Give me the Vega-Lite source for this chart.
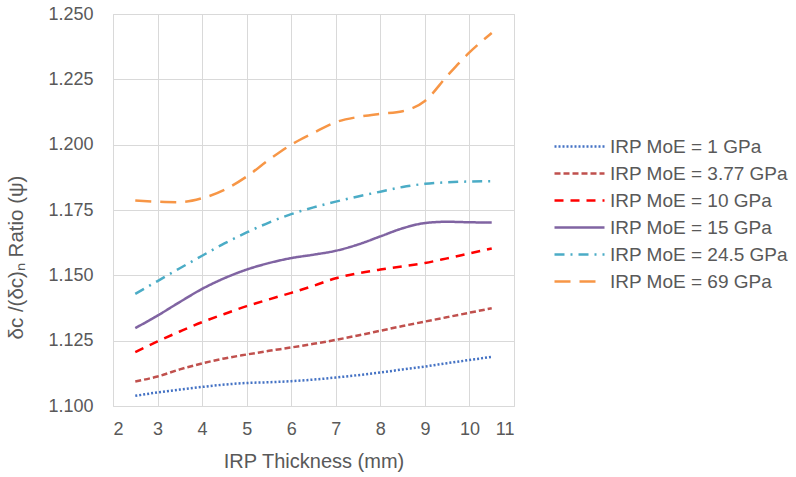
{
  "$schema": "https://vega.github.io/schema/vega-lite/v6.json",
  "width": 401,
  "height": 392,
  "autosize": {"type": "none"},
  "padding": {"left": 113, "top": 14, "right": 282, "bottom": 71},
  "background": "white",
  "config": {
    "font": "Liberation Sans",
    "view": {"stroke": "#d9d9d9", "strokeWidth": 1},
    "axis": {
      "grid": true, "gridColor": "#d9d9d9", "gridWidth": 1,
      "domain": false, "ticks": false,
      "labelColor": "#595959", "titleColor": "#595959",
      "labelFont": "Liberation Sans", "titleFont": "Liberation Sans",
      "labelFontSize": 18, "titleFontSize": 20, "titleFontWeight": "normal"
    },
    "legend": {"labelFont": "Liberation Sans", "labelColor": "#595959", "labelFontSize": 19, "labelLimit": 400}
  },
  "data": {"values": [
    {"t": 2.5, "r": 1.1039, "s": "IRP MoE = 1 GPa"},
    {"t": 3, "r": 1.1052, "s": "IRP MoE = 1 GPa"},
    {"t": 3.5, "r": 1.1063, "s": "IRP MoE = 1 GPa"},
    {"t": 4, "r": 1.1073, "s": "IRP MoE = 1 GPa"},
    {"t": 4.5, "r": 1.1082, "s": "IRP MoE = 1 GPa"},
    {"t": 5, "r": 1.1088, "s": "IRP MoE = 1 GPa"},
    {"t": 5.5, "r": 1.1091, "s": "IRP MoE = 1 GPa"},
    {"t": 6, "r": 1.1095, "s": "IRP MoE = 1 GPa"},
    {"t": 6.5, "r": 1.1101, "s": "IRP MoE = 1 GPa"},
    {"t": 7, "r": 1.1109, "s": "IRP MoE = 1 GPa"},
    {"t": 7.5, "r": 1.1118, "s": "IRP MoE = 1 GPa"},
    {"t": 8, "r": 1.1128, "s": "IRP MoE = 1 GPa"},
    {"t": 8.5, "r": 1.1140, "s": "IRP MoE = 1 GPa"},
    {"t": 9, "r": 1.1151, "s": "IRP MoE = 1 GPa"},
    {"t": 9.5, "r": 1.1164, "s": "IRP MoE = 1 GPa"},
    {"t": 10, "r": 1.1176, "s": "IRP MoE = 1 GPa"},
    {"t": 10.5, "r": 1.1188, "s": "IRP MoE = 1 GPa"},

    {"t": 2.5, "r": 1.1094, "s": "IRP MoE = 3.77 GPa"},
    {"t": 3, "r": 1.1113, "s": "IRP MoE = 3.77 GPa"},
    {"t": 3.5, "r": 1.1140, "s": "IRP MoE = 3.77 GPa"},
    {"t": 4, "r": 1.1163, "s": "IRP MoE = 3.77 GPa"},
    {"t": 4.5, "r": 1.1182, "s": "IRP MoE = 3.77 GPa"},
    {"t": 5, "r": 1.1197, "s": "IRP MoE = 3.77 GPa"},
    {"t": 5.5, "r": 1.1211, "s": "IRP MoE = 3.77 GPa"},
    {"t": 6, "r": 1.1224, "s": "IRP MoE = 3.77 GPa"},
    {"t": 6.5, "r": 1.1238, "s": "IRP MoE = 3.77 GPa"},
    {"t": 7, "r": 1.1253, "s": "IRP MoE = 3.77 GPa"},
    {"t": 7.5, "r": 1.1270, "s": "IRP MoE = 3.77 GPa"},
    {"t": 8, "r": 1.1288, "s": "IRP MoE = 3.77 GPa"},
    {"t": 8.5, "r": 1.1306, "s": "IRP MoE = 3.77 GPa"},
    {"t": 9, "r": 1.1323, "s": "IRP MoE = 3.77 GPa"},
    {"t": 9.5, "r": 1.1340, "s": "IRP MoE = 3.77 GPa"},
    {"t": 10, "r": 1.1357, "s": "IRP MoE = 3.77 GPa"},
    {"t": 10.5, "r": 1.1374, "s": "IRP MoE = 3.77 GPa"},

    {"t": 2.5, "r": 1.1206, "s": "IRP MoE = 10 GPa"},
    {"t": 3, "r": 1.1247, "s": "IRP MoE = 10 GPa"},
    {"t": 3.5, "r": 1.1285, "s": "IRP MoE = 10 GPa"},
    {"t": 4, "r": 1.1321, "s": "IRP MoE = 10 GPa"},
    {"t": 4.5, "r": 1.1352, "s": "IRP MoE = 10 GPa"},
    {"t": 5, "r": 1.1382, "s": "IRP MoE = 10 GPa"},
    {"t": 5.5, "r": 1.1408, "s": "IRP MoE = 10 GPa"},
    {"t": 6, "r": 1.1433, "s": "IRP MoE = 10 GPa"},
    {"t": 6.5, "r": 1.1460, "s": "IRP MoE = 10 GPa"},
    {"t": 7, "r": 1.1489, "s": "IRP MoE = 10 GPa"},
    {"t": 7.5, "r": 1.1508, "s": "IRP MoE = 10 GPa"},
    {"t": 8, "r": 1.1522, "s": "IRP MoE = 10 GPa"},
    {"t": 8.5, "r": 1.1534, "s": "IRP MoE = 10 GPa"},
    {"t": 9, "r": 1.1547, "s": "IRP MoE = 10 GPa"},
    {"t": 9.5, "r": 1.1565, "s": "IRP MoE = 10 GPa"},
    {"t": 10, "r": 1.1584, "s": "IRP MoE = 10 GPa"},
    {"t": 10.5, "r": 1.1603, "s": "IRP MoE = 10 GPa"},

    {"t": 2.5, "r": 1.1298, "s": "IRP MoE = 15 GPa"},
    {"t": 3, "r": 1.1346, "s": "IRP MoE = 15 GPa"},
    {"t": 3.5, "r": 1.1398, "s": "IRP MoE = 15 GPa"},
    {"t": 4, "r": 1.1448, "s": "IRP MoE = 15 GPa"},
    {"t": 4.5, "r": 1.1489, "s": "IRP MoE = 15 GPa"},
    {"t": 5, "r": 1.1522, "s": "IRP MoE = 15 GPa"},
    {"t": 5.5, "r": 1.1547, "s": "IRP MoE = 15 GPa"},
    {"t": 6, "r": 1.1566, "s": "IRP MoE = 15 GPa"},
    {"t": 6.5, "r": 1.1579, "s": "IRP MoE = 15 GPa"},
    {"t": 7, "r": 1.1594, "s": "IRP MoE = 15 GPa"},
    {"t": 7.5, "r": 1.1618, "s": "IRP MoE = 15 GPa"},
    {"t": 8, "r": 1.1649, "s": "IRP MoE = 15 GPa"},
    {"t": 8.5, "r": 1.1680, "s": "IRP MoE = 15 GPa"},
    {"t": 9, "r": 1.1700, "s": "IRP MoE = 15 GPa"},
    {"t": 9.5, "r": 1.1705, "s": "IRP MoE = 15 GPa"},
    {"t": 10, "r": 1.1703, "s": "IRP MoE = 15 GPa"},
    {"t": 10.5, "r": 1.1702, "s": "IRP MoE = 15 GPa"},

    {"t": 2.5, "r": 1.1429, "s": "IRP MoE = 24.5 GPa"},
    {"t": 3, "r": 1.1478, "s": "IRP MoE = 24.5 GPa"},
    {"t": 3.5, "r": 1.1527, "s": "IRP MoE = 24.5 GPa"},
    {"t": 4, "r": 1.1575, "s": "IRP MoE = 24.5 GPa"},
    {"t": 4.5, "r": 1.1622, "s": "IRP MoE = 24.5 GPa"},
    {"t": 5, "r": 1.1664, "s": "IRP MoE = 24.5 GPa"},
    {"t": 5.5, "r": 1.1702, "s": "IRP MoE = 24.5 GPa"},
    {"t": 6, "r": 1.1734, "s": "IRP MoE = 24.5 GPa"},
    {"t": 6.5, "r": 1.1760, "s": "IRP MoE = 24.5 GPa"},
    {"t": 7, "r": 1.1782, "s": "IRP MoE = 24.5 GPa"},
    {"t": 7.5, "r": 1.1802, "s": "IRP MoE = 24.5 GPa"},
    {"t": 8, "r": 1.1820, "s": "IRP MoE = 24.5 GPa"},
    {"t": 8.5, "r": 1.1838, "s": "IRP MoE = 24.5 GPa"},
    {"t": 9, "r": 1.1850, "s": "IRP MoE = 24.5 GPa"},
    {"t": 9.5, "r": 1.1856, "s": "IRP MoE = 24.5 GPa"},
    {"t": 10, "r": 1.1859, "s": "IRP MoE = 24.5 GPa"},
    {"t": 10.5, "r": 1.1860, "s": "IRP MoE = 24.5 GPa"},

    {"t": 2.5, "r": 1.1786, "s": "IRP MoE = 69 GPa"},
    {"t": 3, "r": 1.1782, "s": "IRP MoE = 69 GPa"},
    {"t": 3.5, "r": 1.1780, "s": "IRP MoE = 69 GPa"},
    {"t": 4, "r": 1.1795, "s": "IRP MoE = 69 GPa"},
    {"t": 4.5, "r": 1.1827, "s": "IRP MoE = 69 GPa"},
    {"t": 5, "r": 1.1878, "s": "IRP MoE = 69 GPa"},
    {"t": 5.5, "r": 1.1942, "s": "IRP MoE = 69 GPa"},
    {"t": 6, "r": 1.2000, "s": "IRP MoE = 69 GPa"},
    {"t": 6.5, "r": 1.2045, "s": "IRP MoE = 69 GPa"},
    {"t": 7, "r": 1.2086, "s": "IRP MoE = 69 GPa"},
    {"t": 7.5, "r": 1.2106, "s": "IRP MoE = 69 GPa"},
    {"t": 8, "r": 1.2118, "s": "IRP MoE = 69 GPa"},
    {"t": 8.5, "r": 1.2128, "s": "IRP MoE = 69 GPa"},
    {"t": 9, "r": 1.2167, "s": "IRP MoE = 69 GPa"},
    {"t": 9.5, "r": 1.2263, "s": "IRP MoE = 69 GPa"},
    {"t": 10, "r": 1.2353, "s": "IRP MoE = 69 GPa"},
    {"t": 10.5, "r": 1.2427, "s": "IRP MoE = 69 GPa"}
  ]},
  "mark": {"type": "line", "interpolate": "monotone", "strokeWidth": 2.5},
  "encoding": {
    "x": {
      "field": "t", "type": "quantitative",
      "scale": {"domain": [2, 11], "nice": false, "zero": false},
      "axis": {"values": [2,3,4,5,6,7,8,9,10,11], "title": "IRP Thickness (mm)", "labelPadding": 14, "titlePadding": 13}
    },
    "y": {
      "field": "r", "type": "quantitative",
      "scale": {"domain": [1.1, 1.25], "nice": false, "zero": false},
      "axis": {"values": [1.1, 1.125, 1.15, 1.175, 1.2, 1.225, 1.25], "format": ".3f", "title": "δc /(δc)ₙ Ratio (ψ)", "labelPadding": 20, "titlePadding": 21, "titleFontSize": 20.5, "titleY": 243}
    },
    "color": {
      "field": "s", "type": "nominal",
      "scale": {
        "domain": ["IRP MoE = 1 GPa", "IRP MoE = 3.77 GPa", "IRP MoE = 10 GPa", "IRP MoE = 15 GPa", "IRP MoE = 24.5 GPa", "IRP MoE = 69 GPa"],
        "range": ["#4472C4", "#C0504D", "#FF0000", "#8064A2", "#4BACC6", "#F79646"]
      },
      "legend": {
        "title": null, "orient": "none", "legendX": 455, "legendY": 121,
        "symbolType": "M-2.5,0L2.5,0", "symbolSize": 400, "symbolStrokeWidth": 2.5,
        "labelOffset": 19, "rowPadding": 5, "padding": 0
      }
    },
    "strokeDash": {
      "field": "s", "type": "nominal",
      "scale": {
        "domain": ["IRP MoE = 1 GPa", "IRP MoE = 3.77 GPa", "IRP MoE = 10 GPa", "IRP MoE = 15 GPa", "IRP MoE = 24.5 GPa", "IRP MoE = 69 GPa"],
        "range": [[2, 2], [6, 3], [9, 7], [1, 0], [10, 6, 2, 6], [16, 9]]
      },
      "legend": {
        "title": null, "orient": "none", "legendX": 455, "legendY": 121,
        "symbolType": "M-2.5,0L2.5,0", "symbolSize": 400, "symbolStrokeWidth": 2.5,
        "labelOffset": 19, "rowPadding": 5, "padding": 0
      }
    }
  }
}
